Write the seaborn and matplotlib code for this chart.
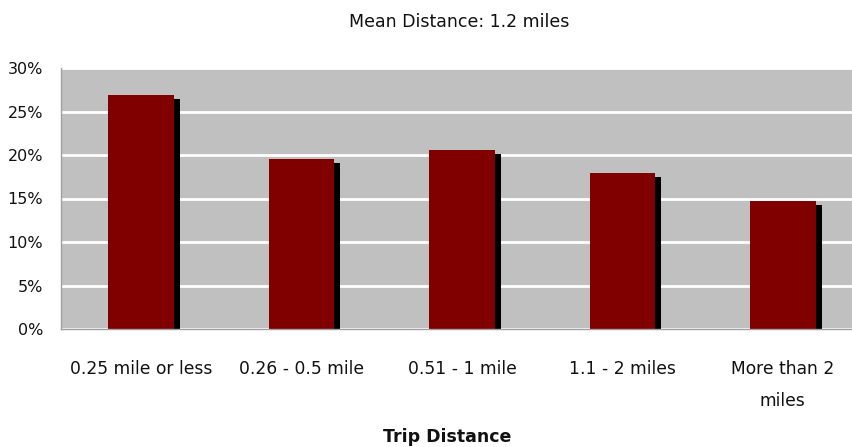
import numpy as np
import pandas as pd
import seaborn as sns
import matplotlib.pyplot as plt
import matplotlib.patheffects as pe
from matplotlib.ticker import FuncFormatter

sns.set_style("white", {'axes.facecolor': '#C0C0C0'})
plt.rcParams['font.family'] = ['DejaVu Sans']

# data
categories = ['0.25 mile or less', '0.26 - 0.5 mile', '0.51 - 1 mile',
              '1.1 - 2 miles', 'More than 2\nmiles']
shares = [26.9, 19.5, 20.6, 17.9, 14.7]   # percent of trips
yticks = [0, 5, 10, 15, 20, 25, 30]

df = pd.DataFrame({'distance': categories, 'share': shares})

fig = plt.figure(figsize=(8.53, 4.47), dpi=100)
ax = fig.add_axes([61/853, 118/447, 802/853, 261/447])

sns.barplot(data=df, x='distance', y='share', color='#800000',
            saturation=1, width=0.41, linewidth=0, ax=ax)

# drop shadow to the lower right of each bar
for p in ax.patches:
    p.set_path_effects([pe.SimplePatchShadow(offset=(4.3, -2.9), shadow_rgbFace='black', alpha=1),
                        pe.Normal()])

ax.set_ylim(0, 30)
ax.set_yticks(yticks)
ax.yaxis.set_major_formatter(FuncFormatter(lambda v, _: f'{v:.0f}%'))
ax.yaxis.grid(True, color='white', lw=2)
ax.set_axisbelow(True)
ax.tick_params(axis='both', length=0, colors='#111111')
ax.tick_params(axis='x', pad=22, labelsize=12.3)
ax.tick_params(axis='y', pad=13, labelsize=11.5)
for lbl in ax.get_xticklabels():
    lbl.set_linespacing(2.05)
    lbl.set_verticalalignment('top')

for s in ['top', 'right']:
    ax.spines[s].set_visible(False)
for s in ['left', 'bottom']:
    ax.spines[s].set_color('#a0a0a0')
    ax.spines[s].set_linewidth(1)

ax.set_xlabel('')
ax.set_ylabel('')

fig.text(459/853, 1 - 22/447, 'Mean Distance: 1.2 miles', ha='center', va='center',
         fontsize=12.5, color='#111111')
fig.text(447/853, 1 - 437/447, 'Trip Distance', ha='center', va='center',
         fontsize=12.5, fontweight='bold', color='#111111')

fig.savefig('out.png', dpi=100)
